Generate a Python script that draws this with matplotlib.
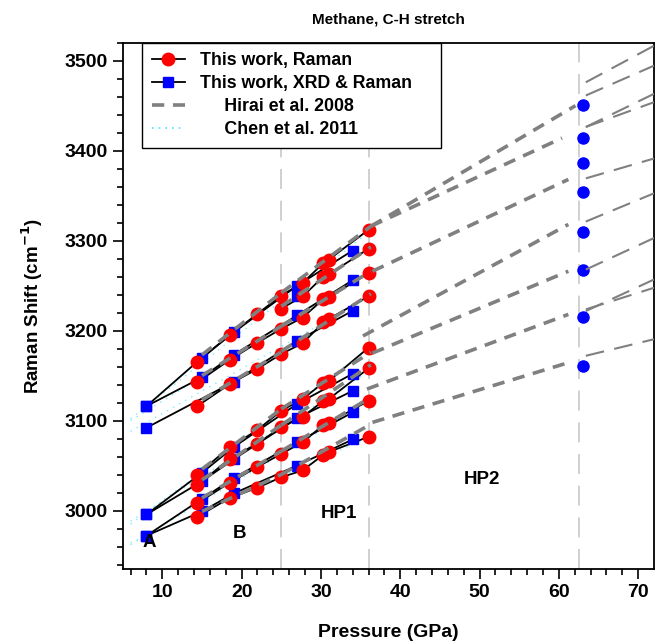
import numpy as np
import matplotlib
matplotlib.use("Agg")
import matplotlib.pyplot as plt
from matplotlib.lines import Line2D

plt.rcParams['font.family'] = ['Liberation Sans', 'DejaVu Sans']
plt.rcParams['font.weight'] = 'bold'

# ---------------- data ----------------
nan = np.nan
# This work, Raman (red circles)
raman_P = [14.4, 18.5, 21.9, 25.0, 27.7, 30.3, 31.0, 36.0]
raman_U1 = [3165, 3195, 3218, 3239, 3253, 3275, 3279, 3312]
raman_U2 = [nan, nan, nan, 3224.5, 3238, 3260, 3262.5, 3291]
raman_U3 = [3142.5, 3167.5, 3186, 3202, 3214.5, 3235, 3237, 3264]
raman_U4 = [3116, 3140.6, 3157, 3174, 3186, 3209, 3213, 3238]
raman_L1 = [3040, 3070.5, 3089, 3111, 3124, 3142, 3144, 3181]
raman_L2 = [3028, 3057.6, 3074, 3092.7, 3104, 3122, 3124, 3158]
raman_L3 = [3008, 3031, 3048, 3063, 3076, 3095, 3097.5, 3122]
raman_L4 = [2993, 3014, 3025, 3037, 3044.6, 3062, 3065, 3082]

# This work, XRD & Raman (blue squares)
xrd_P = [8, 15, 19, 27, 34]
xrd_U1 = [3116, 3170, 3198, 3250, 3289]
xrd_U2 = [nan, nan, nan, 3238, nan]
xrd_U3 = [3116, 3148, 3173, 3217, 3256]
xrd_U4 = [3092, nan, 3143, 3188.6, 3222]
xrd_L1 = [2995.6, 3042, 3070.5, 3118.5, 3152]
xrd_L2 = [2995.6, 3032.5, 3057, 3102.7, 3133]
xrd_L3 = [2972, 3013, 3036, 3076, 3109]
xrd_L4 = [2972, 2999, 3019, 3050, 3079]

# high-pressure points (blue circles)
hp_P = [63.0] * 8
hp_shift = [3450.2, 3414.1, 3386.5, 3353.7, 3309.1, 3267.5, 3215.1, 3160.9]

# Hirai et al. 2008, phase B segments (15 -> 25 GPa)
hirai_B_P = [15.0, 25.0]
hirai_B = [[3173, 3242], [3150, 3205], [3123, 3176],
           [3046, 3113], [3034, 3095], [3014, 3066], [2999, 3040]]
# Hirai, HP1 segments (25 -> 36.3 GPa)
hirai_HP1_P = [25.0, 36.3]
hirai_HP1 = [[3242, 3316], [3227, 3293], [3205, 3266], [3177, 3241],
             [3113, 3176], [3095, 3162], [3066, 3126], [3040, 3096]]
# Hirai, HP2 segments (start P, start shift, end P, end shift)
hirai_HP2_P0 = [36.3, 36.3, 36.5, 35.3, 36.5, 35.8, 36.5]
hirai_HP2_S0 = [3316, 3316, 3266, 3194, 3175, 3135, 3098]
hirai_HP2_P1 = [62.1, 60.4, 61.2, 61.2, 61.2, 61.2, 60.7]
hirai_HP2_S1 = [3450, 3414, 3368, 3318, 3266, 3218, 3163]
# Hirai, beyond 63 GPa
hirai_hi_P = [63.4, 72.0]
hirai_hi = [[3476.0, 3516.6], [3461.3, 3494.5], [3426.3, 3463.2], [3426.3, 3453.9],
            [3369.2, 3391.3], [3321.2, 3352.6], [3267.8, 3302.9],
            [3221.7, 3256.8], [3223.6, 3247.6], [3172.0, 3190.4]]

# Chen et al. 2011
chen_P = [6.0, 37.0]
chen = [[3102, 3316], [3100, 3268], [3088, 3242],
        [2985, 3186], [2988, 3160], [2962, 3126], [2964, 3085]]

# phase boundaries
bounds = [25.0, 36.0, 62.5]
phase_labels = ["A", "B", "HP1", "HP2"]
phase_x = [8.4, 19.7, 32.3, 50.3]
phase_y = [2965, 2975, 2997, 3035]

# ---------------- figure ----------------
fig = plt.figure(figsize=(6.55, 6.42), dpi=100)
ax = fig.add_axes([0.1873, 0.1137, 0.8112, 0.8198])

for b in bounds:
    ax.axvline(b, color='#c8c8c8', lw=1.2, ls=(0, (12, 7)), zorder=1)

gray = '#808080'
hd = (0, (3.4, 2.4))
for seg in hirai_B:
    ax.plot(hirai_B_P, seg, color=gray, lw=2.6, ls=hd, zorder=6)
for seg in hirai_HP1:
    ax.plot(hirai_HP1_P, seg, color=gray, lw=2.6, ls=hd, zorder=6)
for p0, s0, p1, s1 in zip(hirai_HP2_P0, hirai_HP2_S0, hirai_HP2_P1, hirai_HP2_S1):
    ax.plot([p0, p1], [s0, s1], color=gray, lw=2.6, ls=hd, zorder=6)
for seg in hirai_hi:
    ax.plot(hirai_hi_P, seg, color=gray, lw=1.5, ls=(0, (9, 5)), zorder=6)

for seg in chen:
    ax.plot(chen_P, seg, color='#40e8ff', lw=1.0, ls=(0, (1, 4)), zorder=2, alpha=0.7)

def draw(P, S, marker, color, ms, z):
    P = np.asarray(P, float)
    S = np.asarray(S, float)
    m = ~np.isnan(S)
    ax.plot(P[m], S[m], color='black', lw=1.3, zorder=3)
    ax.plot(P[m], S[m], ls='none', marker=marker, mfc=color, mec=color, ms=ms, zorder=z)

for S in [xrd_U1, xrd_U2, xrd_U3, xrd_U4, xrd_L1, xrd_L2, xrd_L3, xrd_L4]:
    draw(xrd_P, S, 's', 'blue', 7, 4)
for S in [raman_U1, raman_U2, raman_U3, raman_U4, raman_L1, raman_L2, raman_L3, raman_L4]:
    draw(raman_P, S, 'o', 'red', 9, 5)

ax.plot(hp_P, hp_shift, ls='none', marker='o', mfc='blue', mec='blue', ms=8, zorder=5)

for t, x, y in zip(phase_labels, phase_x, phase_y):
    ax.text(x, y, t, ha='center', va='center', fontsize=13.5, fontweight='bold', zorder=7)

ax.set_xlim(5, 72)
ax.set_ylim(2935, 3520)
ax.set_xticks(np.arange(10, 71, 10))
ax.set_xticks(np.arange(6, 72, 2), minor=True)
ax.set_yticks(np.arange(3000, 3501, 100))
ax.set_yticks(np.arange(2940, 3521, 20), minor=True)
ax.tick_params(which='both', direction='out', top=False, right=False, width=1.2, labelsize=14)
ax.tick_params(which='major', length=7)
ax.tick_params(which='minor', length=4)
for lab in ax.get_xticklabels() + ax.get_yticklabels():
    lab.set_fontweight('bold')
for sp in ax.spines.values():
    sp.set_linewidth(1.3)

ax.set_xlabel('Pressure (GPa)', fontsize=14, fontweight='bold', labelpad=17)
ax.set_ylabel('Raman Shift (cm$^{\\mathbf{-1}}$)', fontsize=13.5, fontweight='bold', labelpad=14)
ax.set_title('Methane, C-H stretch', fontsize=11, fontweight='bold', pad=14)

handles = [
    Line2D([], [], color='black', lw=1.3, marker='o', mfc='red', mec='red', ms=9),
    Line2D([], [], color='black', lw=1.3, marker='s', mfc='blue', mec='blue', ms=7),
    Line2D([], [], color=gray, lw=2.6, ls=hd),
    Line2D([], [], color='#40e8ff', lw=1.2, ls=(0, (1, 3))),
]
labels = ['This work, Raman', 'This work, XRD & Raman    ',
          '     Hirai et al. 2008', '     Chen et al. 2011']
leg = ax.legend(handles, labels, loc='upper left', bbox_to_anchor=(0.036, 1.0),
                borderaxespad=0, frameon=True, fancybox=False, framealpha=1,
                edgecolor='black', handlelength=1.9, handletextpad=0.8,
                labelspacing=0.33, borderpad=0.55, prop={'weight': 'bold', 'size': 12.8})
leg.get_frame().set_linewidth(1.0)
leg.set_zorder(10)

fig.savefig('out.png', dpi=100)
